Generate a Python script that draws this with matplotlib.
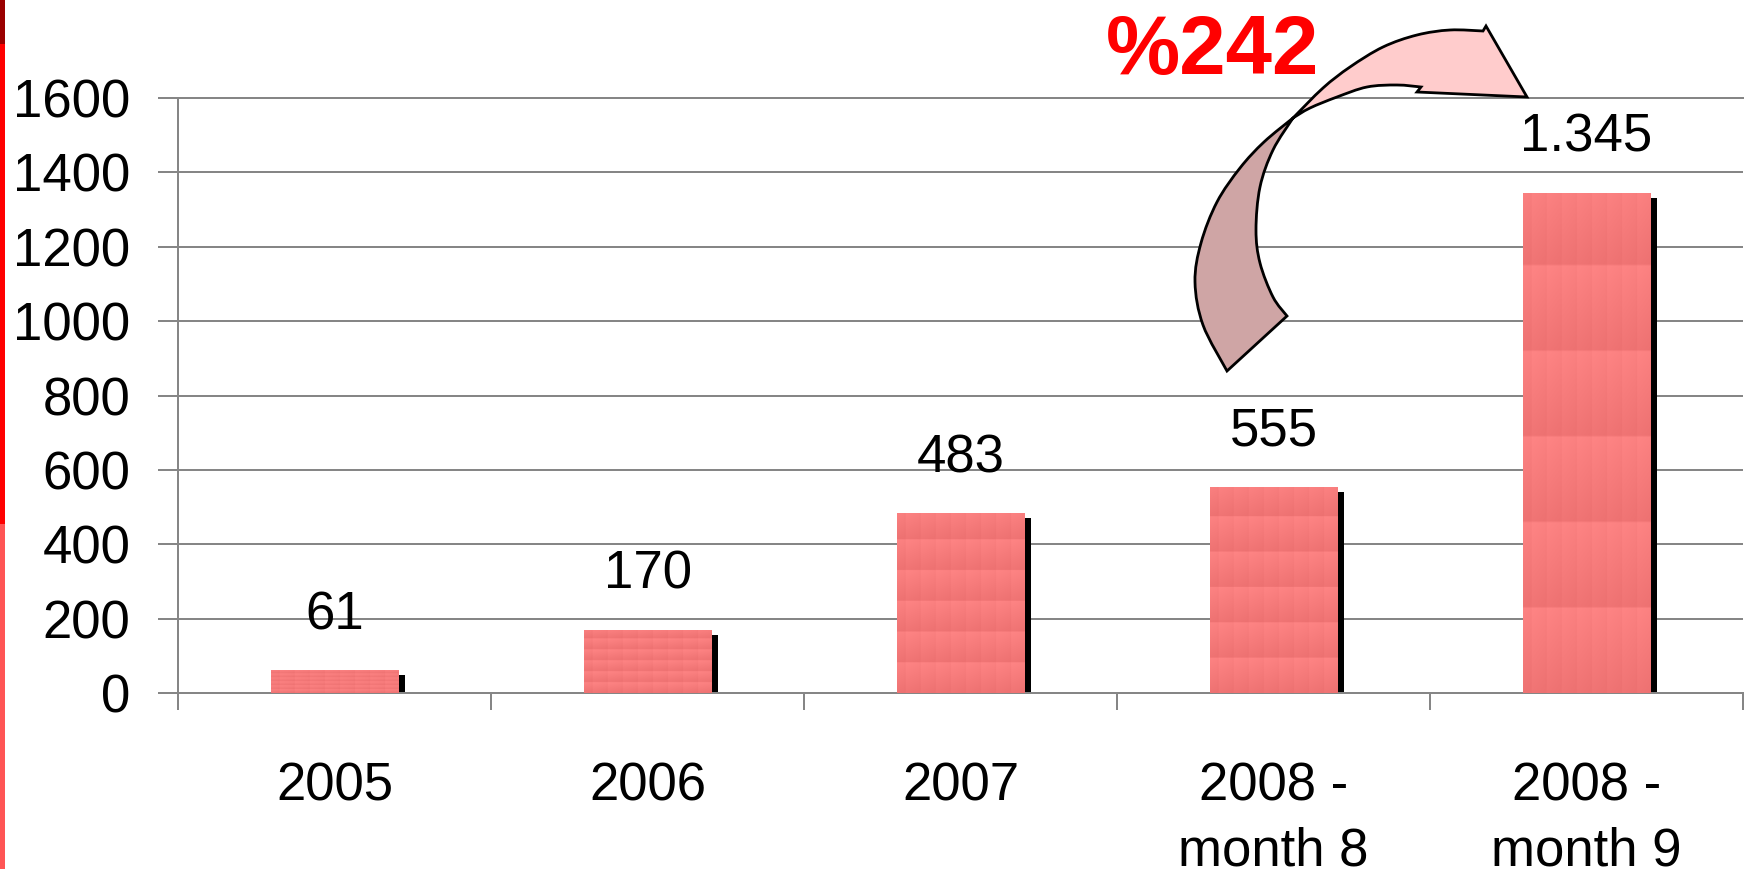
import numpy as np
import matplotlib
matplotlib.use("Agg")
import matplotlib.pyplot as plt
from matplotlib.patches import Rectangle, PathPatch
from matplotlib.path import Path
from matplotlib.transforms import ScaledTranslation

plt.rcParams['font.family'] = ['Liberation Sans', 'DejaVu Sans']

# data
categories = ['2005', '2006', '2007', '2008 -\nmonth 8', '2008 -\nmonth 9']
values = [61, 170, 483, 555, 1345]
yticks = [0, 200, 400, 600, 800, 1000, 1200, 1400, 1600]
growth_label = '%242'

W, H = 1746, 869
fig = plt.figure(figsize=(W / 100, H / 100), dpi=100)
ax = fig.add_axes([178 / W, 1 - 693 / H, 1565 / W, 595 / H])

grey = '#868686'
fs = 38
x = np.arange(len(values))
width = 0.406

# shadow first, shifted right/down a few pixels
shadow = ax.bar(x, values, width, color='black', zorder=2)
off = ScaledTranslation(7 / 100, -5 / 100, fig.dpi_scale_trans)
for p in shadow.patches:
    p.set_transform(ax.transData + off)

bars = ax.bar(x, values, width, color='#f87b7b', zorder=3)


def bar_texture(nx=340, ny=240):
    # tiled picture fill: ~8.5 columns x ~6 rows, lighter at tile tops
    u = (np.arange(nx) + 0.5) / nx
    v = (np.arange(ny) + 0.5) / ny
    fu = (u * 8.5 + 0.5) % 1
    fv = (v * 5.85 + 0.15) % 1
    t = 0.8 * fv[:, None] + 0.2 * fu[None, :]
    t = t + 0.3 * (fu < 0.07)[None, :]
    light = np.array([255, 133, 133]) / 255
    dark = np.array([237, 113, 113]) / 255
    return light + (dark - light) * np.clip(t, 0, 1)[..., None]


tex = bar_texture()
for p in bars.patches:
    x0, y0 = p.get_x(), p.get_y()
    im = ax.imshow(tex, extent=(x0, x0 + p.get_width(), y0, y0 + p.get_height()),
                   aspect='auto', origin='upper', interpolation='bilinear', zorder=3.1)
    im.set_clip_path(p)

for xi, v in zip(x, values):
    ax.annotate(f'{v:,}'.replace(',', '.'), xy=(xi, v), xytext=(0, 29.5),
                textcoords='offset points', ha='center', va='baseline', fontsize=fs)

ax.set_xlim(-0.5, len(values) - 0.5)
ax.set_ylim(0, 1600)
ax.set_yticks(yticks)
ax.set_yticklabels([str(t) for t in yticks])
ax.set_xticks(x)
ax.set_xticklabels(categories)
ax.set_xticks(np.arange(len(values) + 1) - 0.5, minor=True)
for lbl in ax.get_xticklabels():
    lbl.set_linespacing(1.4)

ax.tick_params(axis='y', direction='out', length=14.4, width=1.44, color=grey,
               labelsize=fs, pad=20)
ax.tick_params(axis='x', which='major', length=0, labelsize=fs, pad=49)
ax.tick_params(axis='x', which='minor', direction='out', length=12.5, width=1.44, color=grey)

ax.grid(axis='y', color=grey, linewidth=1.44, zorder=1)
ax.set_axisbelow(True)
for side in ['left', 'bottom', 'top']:
    ax.spines[side].set_color(grey)
    ax.spines[side].set_linewidth(1.44)
ax.spines['right'].set_visible(False)

# red strip at the left edge of the slide
for top, bot, c in [(0, 44, '#9b0000'), (44, 524, '#ff0000'), (524, 869, '#ff5555')]:
    fig.add_artist(Rectangle((0, 1 - bot / H), 5 / W, (bot - top) / H,
                             transform=fig.transFigure, color=c, lw=0))


def smooth(points):
    # Catmull-Rom through the points, as cubic bezier segments
    pts = np.asarray(points, float)
    verts, codes = [], []
    for i in range(len(pts) - 1):
        p0 = pts[max(i - 1, 0)]
        p1, p2 = pts[i], pts[i + 1]
        p3 = pts[min(i + 2, len(pts) - 1)]
        verts += [p1 + (p2 - p0) / 6, p2 - (p3 - p1) / 6, p2]
        codes += [Path.CURVE4] * 3
    return verts, codes


def to_fig(verts):
    v = np.asarray(verts, float)
    return np.column_stack([v[:, 0] / W, 1 - v[:, 1] / H])


def shape(pieces):
    verts, codes = [], []
    for kind, pts in pieces:
        if not verts:
            verts.append(pts[0])
            codes.append(Path.MOVETO)
        if kind == 'curve':
            vv, cc = smooth(pts)
        else:
            vv, cc = list(pts[1:]), [Path.LINETO] * (len(pts) - 1)
        verts += vv
        codes += cc
    verts.append(verts[0])
    codes.append(Path.CLOSEPOLY)
    return Path(to_fig(verts), codes)


meet = (1293, 118)
back = shape([
    ('curve', [(1227, 371), (1203, 325), (1195, 282), (1201, 243), (1217, 202),
               (1240, 168), (1264, 142), meet]),
    ('curve', [meet, (1273, 150), (1260, 187), (1256, 230), (1260, 263),
               (1273, 297), (1287, 316)]),
    ('line', [(1287, 316), (1227, 371)]),
])
front = shape([
    ('curve', [meet, (1323, 88), (1350, 67), (1383, 47), (1417, 35), (1450, 30), (1483, 31)]),
    ('line', [(1483, 31), (1486, 26), (1527, 97), (1417, 92), (1421, 87)]),
    ('curve', [(1421, 87), (1397, 85), (1367, 87), (1337, 97), (1310, 108), meet]),
])
fig.add_artist(PathPatch(back, transform=fig.transFigure, facecolor='#cfa5a5',
                         edgecolor='black', lw=2, zorder=5))
fig.add_artist(PathPatch(front, transform=fig.transFigure, facecolor='#ffcccc',
                         edgecolor='black', lw=2, zorder=5))

fig.text(1106 / W, 1 - 74 / H, growth_label, ha='left', va='baseline',
         fontsize=60, fontweight='bold', color='#ff0000')

fig.savefig('out.png', dpi=100)
